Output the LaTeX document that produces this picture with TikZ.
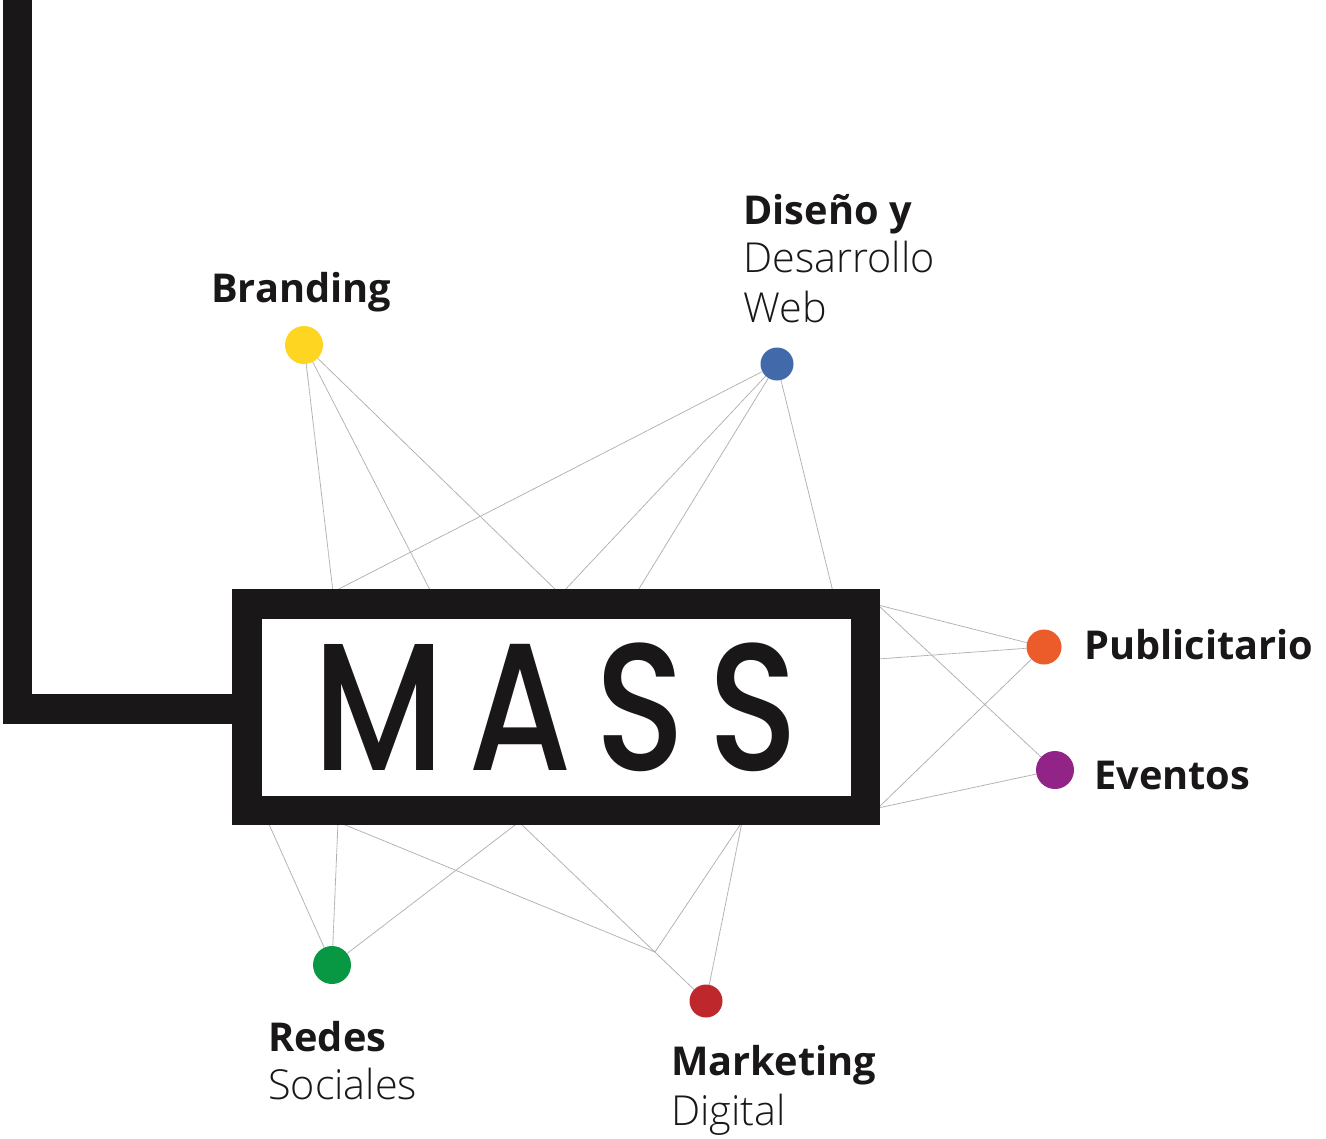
\documentclass[tikz,border=0pt]{standalone}
\usepackage{fontspec}
\setmainfont{Open Sans}
\newfontfamily\lightfont{Open Sans Light}
\newfontfamily\logofont[FakeStretch=0.82,LetterSpace=13]{Poppins Medium}
\newcommand{\lighttext}[1]{{\lightfont\fontsize{31}{36}\selectfont #1}}
\definecolor{ink}{HTML}{1A1718}
\definecolor{linkgray}{HTML}{B0B0B0}
\definecolor{dotyellow}{HTML}{FED520}
\definecolor{dotblue}{HTML}{4269AA}
\definecolor{dotorange}{HTML}{EC5B2A}
\definecolor{dotpurple}{HTML}{922488}
\definecolor{dotgreen}{HTML}{089844}
\definecolor{dotred}{HTML}{BE282C}
\tikzset{
    dot/.style={circle,inner sep=0pt,outer sep=0pt,minimum size=#1*0.75pt},
    link/.style={draw=linkgray,line width=0.6pt,dash pattern=on 1.6pt off 0.3pt},
    tag/.style={text=ink,align=left,inner sep=0pt,anchor=west,font=\fontsize{29.8}{36}\selectfont},
}
\begin{document}
\begin{tikzpicture}[x=0.75pt,y=-0.75pt]
    \useasboundingbox (0,0) rectangle (1326,1138);
    % dots
    \node[dot=38,fill=dotyellow] (branding) at (304,345) {};
    \node[dot=33,fill=dotblue] (web) at (777,364) {};
    \node[dot=35,fill=dotorange] (publi) at (1044,647) {};
    \node[dot=38,fill=dotpurple] (eventos) at (1055,770) {};
    \node[dot=38,fill=dotgreen] (redes) at (332,965) {};
    \node[dot=33,fill=dotred] (marketing) at (706,1001) {};
    % ends of the links on the box
    \coordinate (t1) at (333,592);
    \coordinate (t2) at (431,592);
    \coordinate (t3) at (558,592);
    \coordinate (t4) at (563,592);
    \coordinate (t5) at (637,592);
    \coordinate (t6) at (833,592);
    \coordinate (r1) at (878,605);
    \coordinate (r2) at (878,659);
    \coordinate (r3) at (878,808);
    \coordinate (b1) at (268,822);
    \coordinate (b2) at (338,822);
    \coordinate (b3) at (519,822);
    \coordinate (b4) at (742,822);
    \coordinate (meet) at (655,952);
    % top links
    \draw[link] (branding) -- (t1);
    \draw[link] (branding) -- (t2);
    \draw[link] (branding) -- (t3);
    \draw[link] (web) -- (t1);
    \draw[link] (web) -- (t4);
    \draw[link] (web) -- (t5);
    \draw[link] (web) -- (t6);
    % right links
    \draw[link] (r1) -- (publi);
    \draw[link] (r1) -- (eventos);
    \draw[link] (r2) -- (publi);
    \draw[link] (r3) -- (publi);
    \draw[link] (r3) -- (eventos);
    % bottom links
    \draw[link] (b1) -- (redes);
    \draw[link] (b2) -- (redes);
    \draw[link] (b3) -- (redes);
    \draw[link] (b2) -- (meet);
    \draw[link] (b3) -- (marketing);
    \draw[link] (b4) -- (meet);
    \draw[link] (b4) -- (marketing);
    % box with logo
    \node[draw=ink,line width=22.1pt,inner sep=0pt,outer sep=0pt,minimum width=463.9pt,minimum height=154.9pt,
        text=ink,font=\logofont\fontsize{136}{136}\selectfont] (mass) at (556.25,707.25) {MASS};
    % thick line from the top
    \coordinate (top) at (17.75,0);
    \coordinate (tail) at (247,709);
    \draw[ink,line width=22.1pt] (top) |- (tail);
    % labels
    \node[tag] (lbranding) at (211,292) {\textbf{Branding}};
    \node[tag] (lweb) at (743,259) {\textbf{Diseño y}\\\lighttext{Desarrollo}\\[1.5pt]\lighttext{Web}};
    \node[tag] (lpubli) at (1084,645) {\textbf{Publicitario}};
    \node[tag] (leventos) at (1094,775) {\textbf{Eventos}};
    \node[tag] (lredes) at (268,1061) {\textbf{Redes}\\\lighttext{Sociales}};
    \node[tag] (lmarketing) at (671,1090) {\textbf{Marketing}\\[1.5pt]\lighttext{Digital}};
\end{tikzpicture}
\end{document}
